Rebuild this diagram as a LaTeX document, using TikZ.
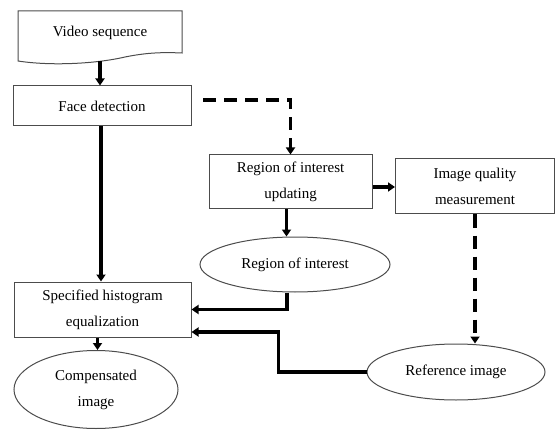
\documentclass[tikz,border=0pt]{standalone}
\usepackage{fontspec}
\setmainfont{Liberation Serif}
\usetikzlibrary{arrows.meta,calc,shapes.geometric}
\begin{document}
\begin{tikzpicture}[x=1pt,y=-1pt,
  txt/.style={font=\fontsize{15}{26}\selectfont, text=black, align=center, inner sep=0pt},
  box/.style={txt, draw=black!70, line width=1pt, rectangle},
  ell/.style={txt, draw=black!70, line width=1pt, ellipse},
  arr/.style={line width=3.2pt, -{Triangle[length=7pt,width=9pt]}},
  dasharr/.style={line width=3.2pt, dash pattern=on 13pt off 8pt, -{Triangle[length=7pt,width=9pt]}}]
\useasboundingbox (0,0) rectangle (556,430);
% video sequence document shape
\draw[draw=black!70, line width=1pt] (18,61) -- (18,11) -- (182,11) -- (182,53)
  .. controls (160,52) and (145,53) .. (125,57)
  .. controls (95,64) and (50,66) .. (18,61) -- cycle;
\node[txt] (video) at (100,33) {Video sequence};
\coordinate (vb) at (100,61);
\node[box, minimum width=178pt, minimum height=40pt] (face) at (102,106) {Face detection};
\node[box, minimum width=163pt, minimum height=54pt] (roiu) at (290.5,182) {Region of interest\\updating};
\node[box, minimum width=159pt, minimum height=55pt] (iqm) at (475,186.5) {Image quality\\measurement};
\node[ell, minimum width=190pt, minimum height=55pt] (roi) at (295,264.5) {Region of interest};
\node[ell, minimum width=178pt, minimum height=56pt] (ref) at (456,372) {Reference image};
\node[box, minimum width=177pt, minimum height=55pt] (she) at (102.5,309.5) {Specified histogram\\equalization};
\node[ell, minimum width=164pt, minimum height=78pt] (comp) at (96,389.5) {Compensated\\image};
\coordinate (d0) at (203,100);
% connectors
\draw[arr] (vb) -- (vb |- face.north);
\draw[arr] ([xshift=-1pt]face.south) -- ([xshift=-1pt]face.south |- she.north);
\draw[dasharr] (d0) -| (roiu.north);
\draw[arr] ([yshift=-5pt]roiu.east) -- ([yshift=-5pt]roiu.east -| iqm.west);
\draw[arr] ([xshift=-4pt]roiu.south) -- ([xshift=-4pt]roiu.south |- roi.north);
\draw[arr] ([xshift=-8pt]roi.south) |- (she.east);
\draw[arr] (ref.west) -- ++(-88,0) |- ([yshift=-22.5pt]she.east);
\draw[dasharr] (iqm.south) -- (iqm.south |- ref.north);
\draw[arr] ([xshift=-5pt]she.south) -- ([xshift=-5pt]she.south |- comp.north);
\end{tikzpicture}
\end{document}
